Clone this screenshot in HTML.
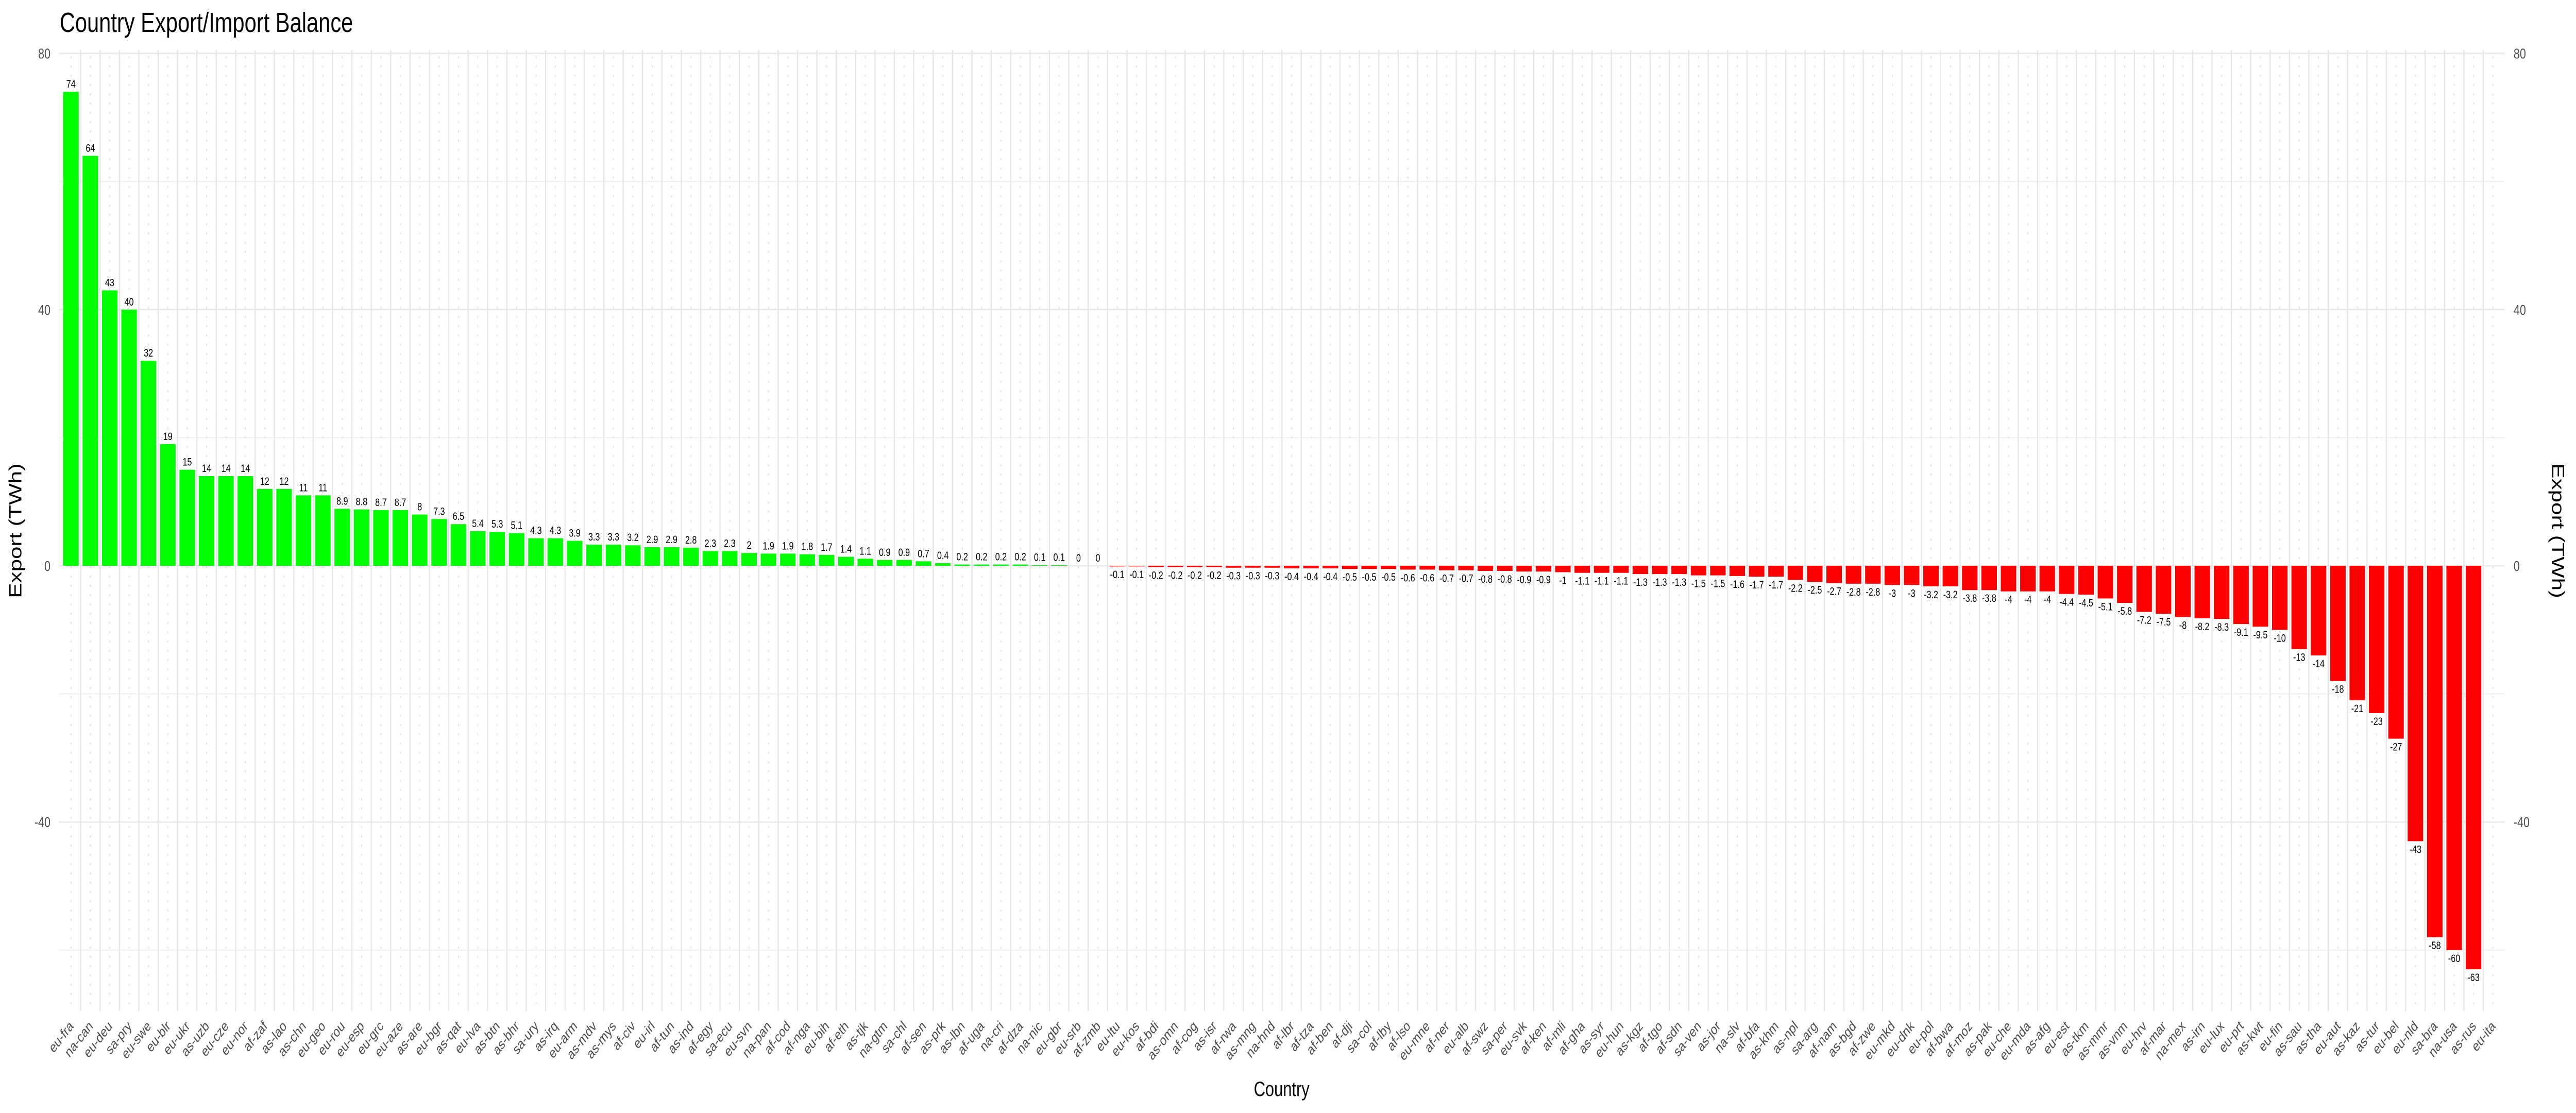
<!DOCTYPE html>
<html><head><meta charset="utf-8"><title>Country Export/Import Balance</title>
<style>html,body{margin:0;padding:0;background:#fff;overflow:hidden;}svg{display:block;width:100vw;height:100vh;font-family:"Liberation Sans",Arial,sans-serif;}</style>
</head><body>
<svg id="chart" viewBox="0 0 6480 2160" preserveAspectRatio="none" xmlns="http://www.w3.org/2000/svg" overflow="hidden">
<rect x="0" y="0" width="6480" height="2160" fill="#fff"/>
<g id="grid"></g>
<g id="bars"></g>
<g id="vlabels"></g>
<g id="xlabels"></g>
<g id="yaxis"></g>
<text x="150" y="62" font-size="54" fill="#000">Country Export/Import Balance</text>
<text x="3224" y="2127" font-size="40" fill="#000" text-anchor="middle">Country</text>
<text transform="translate(54,1030) rotate(-90)" font-size="44" fill="#000" text-anchor="middle">Export (TWh)</text>
<text transform="translate(6420,1030) rotate(90)" font-size="44" fill="#000" text-anchor="middle">Export (TWh)</text>
</svg>
<script>
const categories = ["eu-fra","na-can","eu-deu","sa-pry","eu-swe","eu-blr","eu-ukr","as-uzb","eu-cze","eu-nor","af-zaf","as-lao","as-chn","eu-geo","eu-rou","eu-esp","eu-grc","eu-aze","as-are","eu-bgr","as-qat","eu-lva","as-btn","as-bhr","sa-ury","as-irq","eu-arm","as-mdv","as-mys","af-civ","eu-irl","af-tun","as-ind","af-egy","sa-ecu","eu-svn","na-pan","af-cod","af-nga","eu-bih","af-eth","as-tjk","na-gtm","sa-chl","af-sen","as-prk","as-lbn","af-uga","na-cri","af-dza","na-nic","eu-gbr","eu-srb","af-zmb","eu-ltu","eu-kos","af-bdi","as-omn","af-cog","as-isr","af-rwa","as-mng","na-hnd","af-lbr","af-tza","af-ben","af-dji","sa-col","af-lby","af-lso","eu-mne","af-ner","eu-alb","af-swz","sa-per","eu-svk","af-ken","af-mli","af-gha","as-syr","eu-hun","as-kgz","af-tgo","af-sdn","sa-ven","as-jor","na-slv","af-bfa","as-khm","as-npl","sa-arg","af-nam","as-bgd","af-zwe","eu-mkd","eu-dnk","eu-pol","af-bwa","af-moz","as-pak","eu-che","eu-mda","as-afg","eu-est","as-tkm","as-mmr","as-vnm","eu-hrv","af-mar","na-mex","as-irn","eu-lux","eu-prt","as-kwt","eu-fin","as-sau","as-tha","eu-aut","as-kaz","as-tur","eu-bel","eu-nld","sa-bra","na-usa","as-rus","eu-ita"];
const exportValues = [74,64,43,40,32,19,15,14,14,14,12,12,11,11,8.9,8.8,8.7,8.7,8,7.3,6.5,5.4,5.3,5.1,4.3,4.3,3.9,3.3,3.3,3.2,2.9,2.9,2.8,2.3,2.3,2,1.9,1.9,1.8,1.7,1.4,1.1,0.9,0.9,0.7,0.4,0.2,0.2,0.2,0.2,0.1,0.1,0,0,-0.1,-0.1,-0.2,-0.2,-0.2,-0.2,-0.3,-0.3,-0.3,-0.4,-0.4,-0.4,-0.5,-0.5,-0.5,-0.6,-0.6,-0.7,-0.7,-0.8,-0.8,-0.9,-0.9,-1,-1.1,-1.1,-1.1,-1.3,-1.3,-1.3,-1.5,-1.5,-1.6,-1.7,-1.7,-2.2,-2.5,-2.7,-2.8,-2.8,-3,-3,-3.2,-3.2,-3.8,-3.8,-4,-4,-4,-4.4,-4.5,-5.1,-5.8,-7.2,-7.5,-8,-8.2,-8.3,-9.1,-9.5,-10,-13,-14,-18,-21,-23,-27,-43,-58,-60,-63];
const positiveCount = 54;
const yTicks = [80,40,0,-40];
const yMinor = [60,20,-20,-60];

const NS = "http://www.w3.org/2000/svg";
const X0 = 178.5, STEP = 48.74, BW = 39;
const xPos = i => X0 + i * STEP;
const Y0 = 1098, K = 12.43;
const yPos = v => Y0 - v * K;
const PL = 148, PR = 6301, PT = 97, PB = 1962;
function mk(tag, attrs, parent) { const e = document.createElementNS(NS, tag); for (const k in attrs) e.setAttribute(k, attrs[k]); parent.appendChild(e); return e; }
const grid = document.getElementById('grid');
yMinor.forEach(v => { const l = mk('line', {x1: PL, x2: PR, y1: yPos(v), y2: yPos(v), stroke: '#f0f0f0', 'stroke-width': 2}, grid);
  
   });
yTicks.forEach(v => { const l = mk('line', {x1: PL, x2: PR, y1: yPos(v), y2: yPos(v), stroke: '#ebebeb', 'stroke-width': 3}, grid);
  
   });
categories.forEach((c, i) => {
  const d = mk('line', {x1: xPos(i), x2: xPos(i), y1: PT + 12, y2: PB, stroke: '#e6e6e6', 'stroke-width': 3, 'stroke-dasharray': '4 14'}, grid);
  
  
  if (i < categories.length - 1) {
    const s = mk('line', {x1: xPos(i) + STEP / 2, x2: xPos(i) + STEP / 2, y1: PT, y2: PB, stroke: '#e6e6e6', 'stroke-width': 3}, grid);
    
    
  }
});
const bars = document.getElementById('bars'), vl = document.getElementById('vlabels'), xl = document.getElementById('xlabels');
exportValues.forEach((v, i) => {
  const cx = xPos(i), top = Math.min(yPos(v), Y0), h = Math.abs(yPos(v) - Y0);
  const r = mk('rect', {x: cx - BW / 2, y: top, width: BW, height: Math.max(h, 0), fill: v >= 0 ? '#00ff00' : '#ff0000'}, bars);
  
  
  const pos = (i < positiveCount);
  const t = mk('text', {x: cx, y: pos ? yPos(v) - 8 : yPos(Math.min(v, 0)) + 23, 'font-size': 21, fill: '#000', 'text-anchor': 'middle'}, vl);
  t.textContent = String(v);
  
  
});
categories.forEach((c, i) => {
  const cx = xPos(i) + 8, ty = 1993;
  const t = mk('text', {x: cx, y: ty, 'font-size': 28, fill: '#4d4d4d', 'text-anchor': 'end', transform: 'rotate(-45 ' + cx + ' ' + ty + ')'}, xl);
  t.textContent = c;
  
  
});
const ya = document.getElementById('yaxis');
yTicks.forEach(v => {
  const a = mk('text', {x: 127, y: yPos(v) + 10, 'font-size': 28, fill: '#4d4d4d', 'text-anchor': 'end'}, ya);
  a.textContent = String(v);
  
  
  const b = mk('text', {x: 6323, y: yPos(v) + 10, 'font-size': 28, fill: '#4d4d4d', 'text-anchor': 'start'}, ya);
  b.textContent = String(v);
  
  
});
</script>
</body></html>
